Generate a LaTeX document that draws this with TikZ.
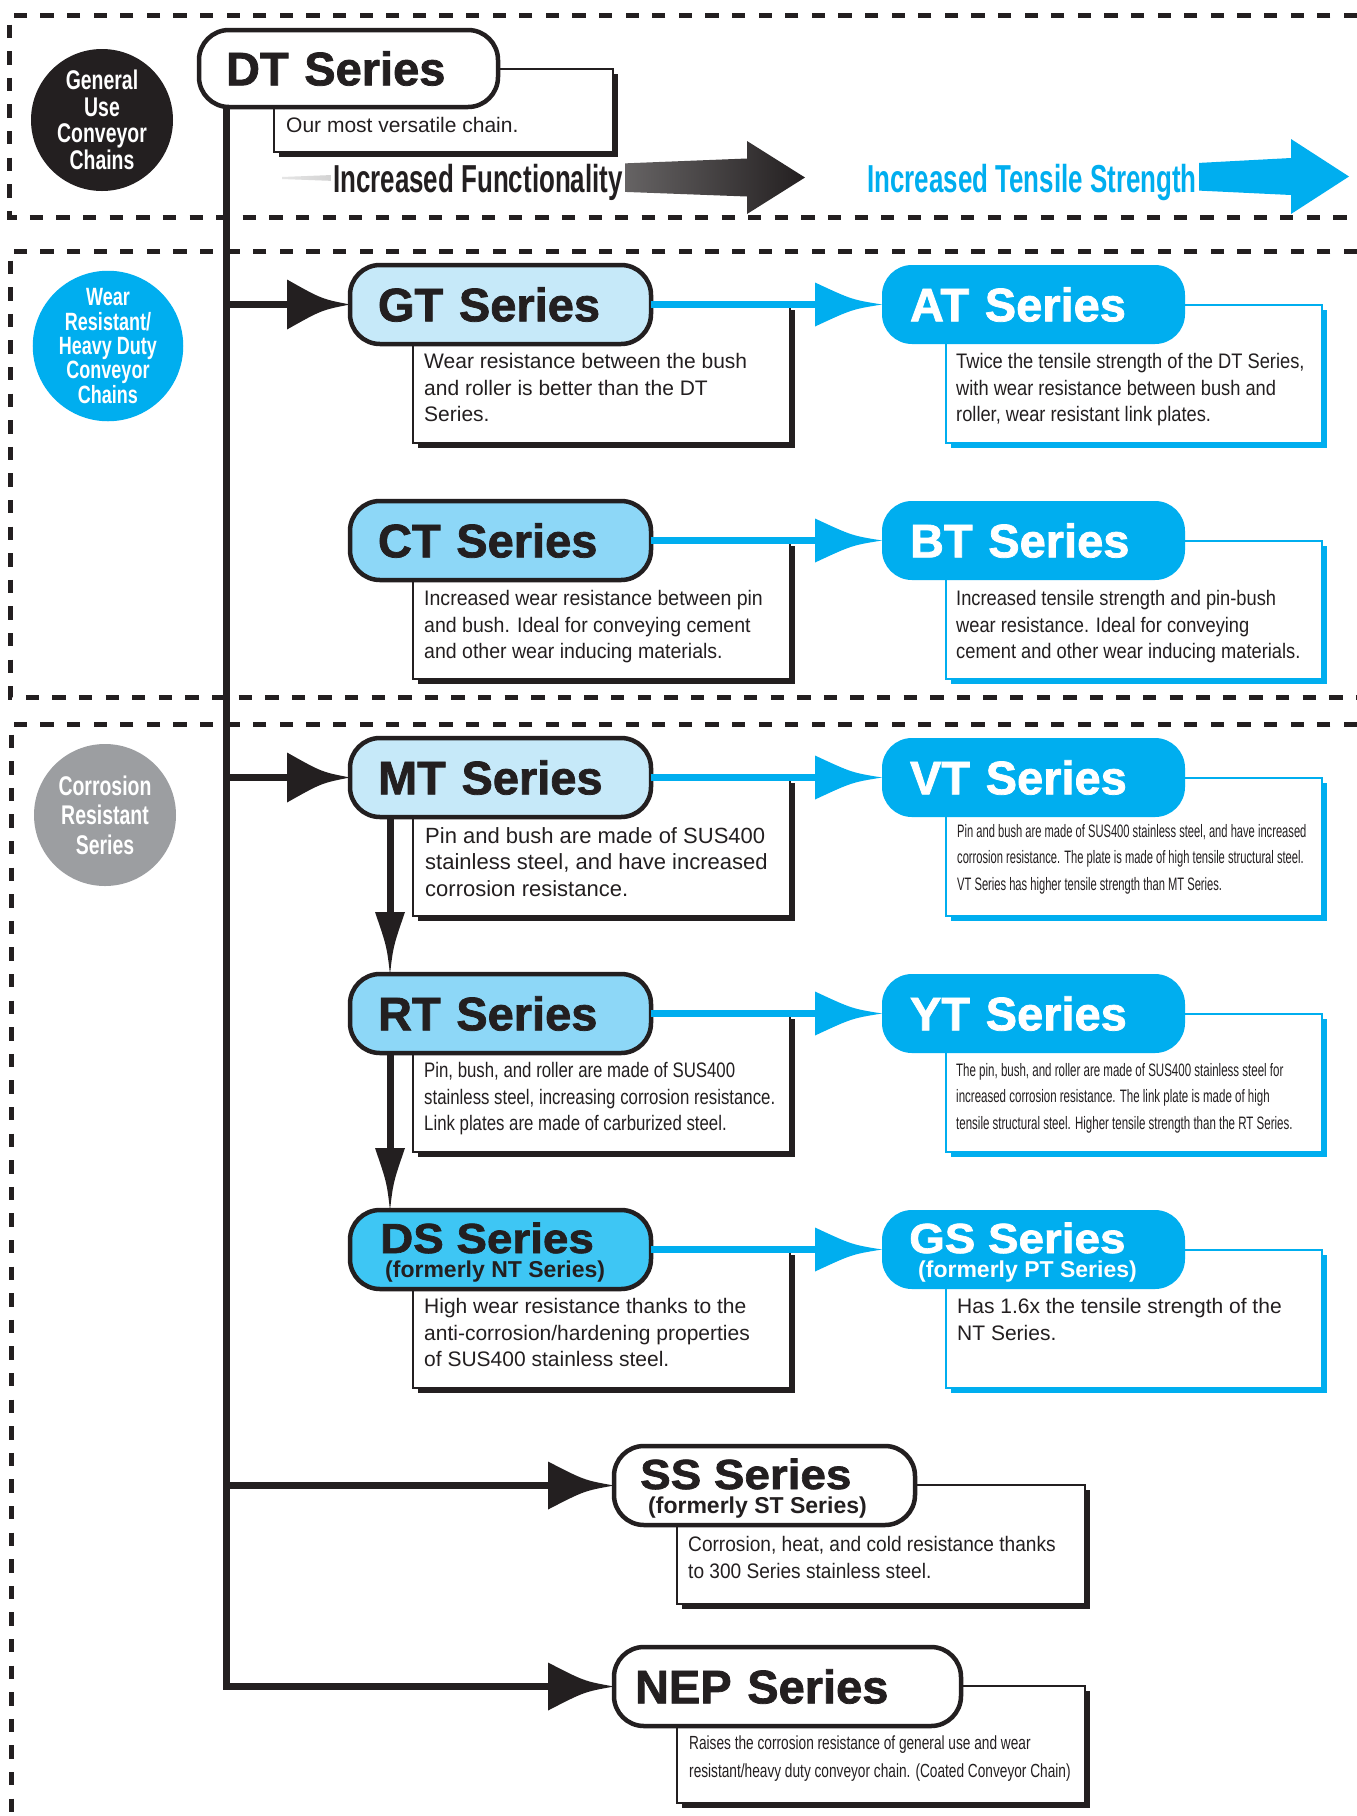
\documentclass[tikz,border=0pt]{standalone}
\usepackage{fontspec}
\setmainfont{Liberation Sans}
\newfontfamily\strA{Liberation Sans}[FakeStretch=0.87]
\newfontfamily\strC{Liberation Sans}[FakeStretch=0.93]
\newfontfamily\strR{Liberation Sans}[FakeStretch=0.80]
\newfontfamily\strS{Liberation Sans}[FakeStretch=0.91]
\newfontfamily\strV{Liberation Sans}[FakeStretch=0.64]
\newfontfamily\strVV{Liberation Sans}[FakeStretch=0.62]
\newfontfamily\strN{Liberation Sans}[FakeStretch=0.72]
\newfontfamily\strF{Liberation Sans}[FakeStretch=0.665]
\newfontfamily\heavyfam{Liberation Sans}[FakeBold=1.6]
\newfontfamily\heavyW{Liberation Sans}[FakeStretch=1.09,FakeBold=1.6]
\usetikzlibrary{calc,shadows}
\definecolor{ink}{HTML}{231F20}
\definecolor{cyanx}{HTML}{00AEEF}
\definecolor{lightb}{HTML}{C6E9F9}
\definecolor{midb}{HTML}{8DD7F7}
\definecolor{deepb}{HTML}{3EC6F4}
\definecolor{grayc}{HTML}{9C9EA1}
\newcommand\fsz[2]{\fontsize{#1}{#2}\selectfont}
\newcommand\hhead[4]{\fill[#1] (#2) .. controls ($(#2)+(-0.45*#3,-0.22*#4)$) .. ($(#2)+(-#3,-#4)$) -- ($(#2)+(-#3,#4)$) .. controls ($(#2)+(-0.45*#3,0.22*#4)$) .. (#2) -- cycle;}
\newcommand\vhead[4]{\fill[#1] (#2) .. controls ($(#2)+(-0.22*#4,-0.45*#3)$) .. ($(#2)+(-#4,-#3)$) -- ($(#2)+(#4,-#3)$) .. controls ($(#2)+(0.22*#4,-0.45*#3)$) .. (#2) -- cycle;}
\begin{document}
\begin{tikzpicture}[x=1pt,y=-1pt,
  frame/.style={draw=ink,line width=5pt,dash pattern=on 13.3pt off 13.3pt},
  circ/.style={circle,minimum size=142pt,inner sep=0pt,text=white,align=center},
  tbox/.style={draw=ink,line width=4.5pt,rounded corners=30pt,minimum height=79pt,anchor=north west,outer sep=0pt,inner ysep=0pt,align=left,text=ink,font=\heavyfam\bfseries\fsz{47}{47}},
  ltitle/.style={tbox,text width=245pt,inner xsep=28pt},
  rtitle/.style={fill=cyanx,rounded corners=30pt,minimum height=79pt,anchor=north west,outer sep=0pt,inner ysep=0pt,align=left,text=white,font=\heavyfam\bfseries\fsz{47}{47},text width=247pt,inner xsep=28pt},
  dboxL/.style={draw=ink,line width=2pt,fill=white,anchor=north west,outer sep=0pt,inner sep=0pt,drop shadow={shadow xshift=5pt,shadow yshift=-5pt,fill=ink,opacity=1}},
  dboxR/.style={draw=cyanx,line width=2pt,fill=white,anchor=north west,outer sep=0pt,inner sep=0pt,drop shadow={shadow xshift=5pt,shadow yshift=-5pt,fill=cyanx,opacity=1}},
  dtext/.style={anchor=north west,inner sep=0pt,align=left,text=ink},
  trunk/.style={draw=ink,line width=7pt,line join=miter},
  cline/.style={draw=cyanx,line width=7pt},
  ftext/.style={anchor=base,fill=white,inner xsep=2pt,inner ysep=1.5pt,font=\strF\bfseries\fsz{39}{39}},
  sub1/.style={anchor=base west,inner sep=0pt,font=\heavyW\bfseries\fsz{42}{42}},
  sub2/.style={anchor=base west,inner sep=0pt,font=\bfseries\fsz{23}{23}}
]
\useasboundingbox (0,0) rectangle (1357,1816);
\fill[white] (0,0) rectangle (1357,1816);

% dashed frames
\draw[frame] (1357,15.5) -- (9.5,15.5) -- (9.5,217) -- (1357,217);
\draw[frame] (1357,251) -- (10,251) -- (10,697) -- (1357,697);
\draw[frame] (1357,724) -- (11,724) -- (11,1816);

% category circles
\node[circ,fill=ink,font=\strN\bfseries\fsz{27}{26.6}] (gen) at (102,120) {General\\Use\\Conveyor\\Chains};
\node[circ,fill=cyanx,font=\strN\bfseries\fsz{25}{24.3}] (wear) at (108,346) {Wear\\Resistant/\\Heavy Duty\\Conveyor\\Chains};
\node[circ,fill=grayc,font=\strN\bfseries\fsz{27}{29.5}] (corr) at (105,815) {Corrosion\\Resistant\\Series};

% trend arrows
\shade[left color=black!10,right color=ink] (282,177) -- (747,158.5) -- (747,141) -- (805,177.5) -- (747,214) -- (747,196.5) -- (282,179) -- cycle;
\fill[cyanx] (935,177) -- (1291,158) -- (1291,139) -- (1349,176.5) -- (1291,214) -- (1291,195) -- (935,178) -- cycle;
\node[ftext,text=ink] (funct) at (478,192) {Increased Functionality};
\node[ftext,text=cyanx] (tens) at (1032,192) {Increased Tensile Strength};

% description boxes
\node[dboxL,minimum width=339pt,minimum height=83.5pt] (dtd) at (274,68.5) {};
\node[dboxL,minimum width=377pt,minimum height=138pt] (gtd) at (413,304.5) {};
\node[dboxR,minimum width=376pt,minimum height=138pt] (atd) at (946,304.5) {};
\node[dboxL,minimum width=377pt,minimum height=138pt] (ctd) at (413,540.5) {};
\node[dboxR,minimum width=376pt,minimum height=138pt] (btd) at (946,540.5) {};
\node[dboxL,minimum width=377pt,minimum height=138pt] (mtd) at (413,777.5) {};
\node[dboxR,minimum width=376pt,minimum height=138pt] (vtd) at (946,777.5) {};
\node[dboxL,minimum width=377pt,minimum height=138pt] (rtd) at (413,1013.5) {};
\node[dboxR,minimum width=376pt,minimum height=138pt] (ytd) at (946,1013.5) {};
\node[dboxL,minimum width=377pt,minimum height=138pt] (dsd) at (413,1249.5) {};
\node[dboxR,minimum width=376pt,minimum height=138pt] (gsd) at (946,1249.5) {};
\node[dboxL,minimum width=408pt,minimum height=119pt] (ssd) at (677,1485) {};
\node[dboxL,minimum width=408pt,minimum height=117pt] (nepd) at (677,1686) {};

% title boxes
\node[tbox,fill=white,minimum width=299pt,text width=245pt,inner xsep=27pt,minimum height=77pt] (dt) at (199,30) {DT Series};
\node[ltitle,fill=lightb] (gt) at (350,265) {GT Series};
\node[rtitle] (at) at (882,265) {AT Series};
\node[ltitle,fill=midb] (ct) at (350,501) {CT Series};
\node[rtitle] (bt) at (882,501) {BT Series};
\node[ltitle,fill=lightb] (mt) at (350,738) {MT Series};
\node[rtitle] (vt) at (882,738) {VT Series};
\node[ltitle,fill=midb] (rt) at (350,974) {RT Series};
\node[rtitle] (yt) at (882,974) {YT Series};
\node[ltitle,fill=deepb] (ds) at (350,1210) {};
\node[rtitle] (gs) at (882,1210) {};
\node[ltitle,fill=white] (ss) at (614,1446) {};
\node[tbox,fill=white,minimum width=347pt,text width=305pt,inner xsep=21pt] (nep) at (614,1647) {NEP Series};

\node[sub1,text=ink] (dsa) at ($(ds.north west)+(30,43)$) {DS Series};
\node[sub2,text=ink] (dsb) at ($(ds.north west)+(35,67)$) {(formerly NT Series)};
\node[sub1,text=white] (gsa) at ($(gs.north west)+(27,43)$) {GS Series};
\node[sub2,text=white] (gsb) at ($(gs.north west)+(36,67)$) {(formerly PT Series)};
\node[sub1,text=ink] (ssa) at ($(ss.north west)+(26,43)$) {SS Series};
\node[sub2,text=ink] (ssb) at ($(ss.north west)+(34,67)$) {(formerly ST Series)};

% description texts
\node[dtext,font=\fsz{21}{26.6}] (dtt) at (286,117) {Our most versatile chain.};
\node[dtext,font=\fsz{21}{26.6}] (gtt) at (424,353) {Wear resistance between the bush\\and roller is better than the DT\\Series.};
\node[dtext,font=\strA\fsz{21}{26.6}] (att) at (956,353) {Twice the tensile strength of the DT Series,\\with wear resistance between bush and\\roller, wear resistant link plates.};
\node[dtext,font=\strC\fsz{21}{26.6}] (ctt) at (424,590) {Increased wear resistance between pin\\and bush. Ideal for conveying cement\\and other wear inducing materials.};
\node[dtext,font=\strA\fsz{21}{26.6}] (btt) at (956,590) {Increased tensile strength and pin-bush\\wear resistance. Ideal for conveying\\cement and other wear inducing materials.};
\node[dtext,font=\fsz{22}{26.6}] (mtt) at (425,827) {Pin and bush are made of SUS400\\stainless steel, and have increased\\corrosion resistance.};
\node[dtext,font=\strVV\fsz{18}{26.6}] (vtt) at (957,824) {Pin and bush are made of SUS400 stainless steel, and have increased\\corrosion resistance. The plate is made of high tensile structural steel.\\VT Series has higher tensile strength than MT Series.};
\node[dtext,font=\strR\fsz{21}{26.6}] (rtt) at (424,1062) {Pin, bush, and roller are made of SUS400\\stainless steel, increasing corrosion resistance.\\Link plates are made of carburized steel.};
\node[dtext,font=\strV\fsz{18}{26.6}] (ytt) at (956,1063) {The pin, bush, and roller are made of SUS400 stainless steel for\\increased corrosion resistance. The link plate is made of high\\tensile structural steel. Higher tensile strength than the RT Series.};
\node[dtext,font=\fsz{21}{26.6}] (dst) at (424,1298) {High wear resistance thanks to the\\anti-corrosion/hardening properties\\of SUS400 stainless steel.};
\node[dtext,font=\fsz{21}{26.6}] (gst) at (957,1298) {Has 1.6x the tensile strength of the\\NT Series.};
\node[dtext,font=\strS\fsz{21}{26.6}] (sst) at (688,1536) {Corrosion, heat, and cold resistance thanks\\to 300 Series stainless steel.};
\node[dtext,font=\strN\fsz{19}{27.8}] (nept) at (689,1736) {Raises the corrosion resistance of general use and wear\\resistant/heavy duty conveyor chain. (Coated Conveyor Chain)};

% trunk and branches
\coordinate (t0) at ($(dt.south west)+(27,0)$);
\draw[trunk] (t0) -- (t0 |- nep.west) -- ($(nep.west)+(-62,0)$);
\hhead{ink}{nep.west}{66}{24}
\draw[trunk] (t0 |- gt.west) -- ($(gt.west)+(-59,0)$);
\hhead{ink}{gt.west}{63}{25}
\draw[trunk] (t0 |- mt.west) -- ($(mt.west)+(-59,0)$);
\hhead{ink}{mt.west}{63}{25}
\draw[trunk] (t0 |- ss.west) -- ($(ss.west)+(-62,0)$);
\hhead{ink}{ss.west}{66}{24}

% vertical steps
\coordinate (mtb) at ($(mt.south west)+(40,0)$);
\coordinate (rtu) at ($(rt.north west)+(40,0)$);
\coordinate (rtb) at ($(rt.south west)+(40,0)$);
\coordinate (dsu) at ($(ds.north west)+(40,0)$);
\draw[trunk] (mtb) -- ($(rtu)+(0,-58)$);
\vhead{ink}{rtu}{62}{15}
\draw[trunk] (rtb) -- ($(dsu)+(0,-58)$);
\vhead{ink}{dsu}{62}{15}

% cyan connectors
\draw[cline] (gt.east) -- ($(at.west)+(-62,0)$);
\hhead{cyanx}{at.west}{67}{22}
\draw[cline] (ct.east) -- ($(bt.west)+(-62,0)$);
\hhead{cyanx}{bt.west}{67}{22}
\draw[cline] (mt.east) -- ($(vt.west)+(-62,0)$);
\hhead{cyanx}{vt.west}{67}{22}
\draw[cline] (rt.east) -- ($(yt.west)+(-62,0)$);
\hhead{cyanx}{yt.west}{67}{22}
\draw[cline] (ds.east) -- ($(gs.west)+(-62,0)$);
\hhead{cyanx}{gs.west}{67}{22}
\end{tikzpicture}
\end{document}
